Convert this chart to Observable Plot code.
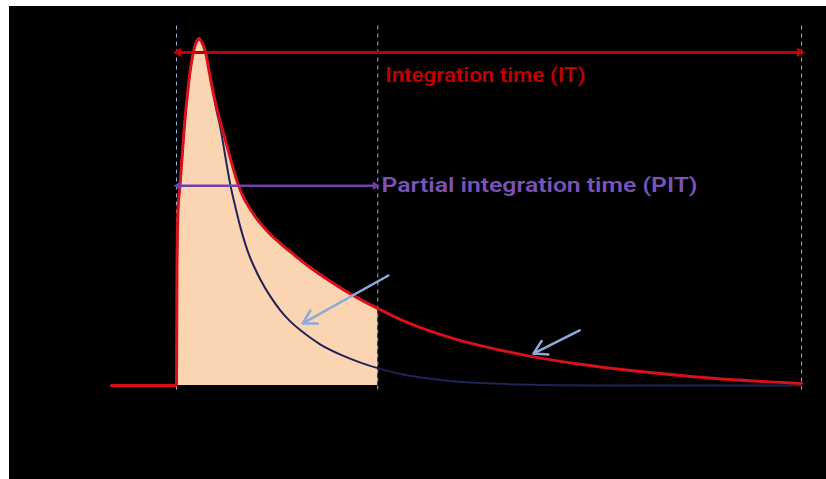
<!DOCTYPE html>
<html>
<head>
<meta charset="utf-8">
<script src="https://cdn.jsdelivr.net/npm/d3@7"></script>
<script src="https://cdn.jsdelivr.net/npm/@observablehq/plot@0.6"></script>
<style>
  html, body { margin: 0; padding: 0; background: #ffffff; }
  #chart { position: absolute; left: 9px; top: 6px; width: 817px; height: 473px; background: #000; }
  #chart svg { display: block; background: #000; }
</style>
</head>
<body>
<div id="chart"></div>
<script>
// Time axis: 0 = pulse start, 100 = end of integration time (IT)
// Signal axis: 0 = baseline, 100 = peak
const redT = [-10.4, 0, 0.08, 0.24, 0.53, 1.44, 2.72, 3.2, 3.6, 4.0, 4.64, 5.28, 5.97, 6.88, 7.84, 8.8, 9.76, 10.72, 11.84, 12.96, 14.72, 16.64, 18.72, 20.96, 24.64, 28.32, 32.2, 35.84, 39.04, 43.84, 48.64, 56.64, 64.64, 72.64, 80.64, 88.64, 96.64, 100];
const redV = [0, 0, 34.6, 50.4, 57.1, 78.4, 96.3, 99.1, 100, 99.1, 96.0, 89.9, 83.6, 76.9, 70.6, 64.3, 58.5, 54.2, 50.7, 47.8, 44.1, 40.9, 37.8, 34.6, 30.0, 25.9, 22.2, 19.0, 16.7, 13.8, 11.5, 8.4, 6.1, 4.3, 2.9, 1.7, 0.9, 0.6];

const navyT = [0, 0.08, 0.24, 0.53, 1.44, 2.72, 3.2, 3.6, 4.0, 4.64, 5.44, 6.24, 7.04, 7.84, 8.64, 9.44, 10.24, 11.04, 11.84, 13.44, 15.04, 16.64, 18.24, 19.84, 23.04, 26.24, 29.44, 32.2, 35.84, 39.04, 43.84, 48.64, 56.64, 67.84, 100];
const navyV = [0, 34.6, 50.4, 57.1, 78.4, 96.3, 99.1, 100, 99.1, 96.0, 89.6, 80.7, 74.1, 65.7, 57.6, 51.3, 45.5, 40.6, 36.6, 30.5, 25.6, 21.6, 18.4, 15.9, 11.8, 8.9, 6.6, 5.0, 3.3, 2.3, 1.3, 0.7, 0.23, 0.03, 0];

const peakT = 3.6;            // time of the peak
const pitEnd = 32.2;          // partial integration time end
const itEnd = 100;            // integration time end
const markerTimes = [0, pitEnd, itEnd];

const itLabel = "Integration time (IT)";
const pitLabel = "Partial integration time (PIT)";

// arrows: [t1, v1, t2, v2]
const itArrow = [0.3, 96, 99.7, 96];
const pitArrow = [0.3, 57.6, 31.8, 57.6];
const pointerArrows = [
  {t1: 33.9, v1: 31.7, t2: 20.2, v2: 17.9},
  {t1: 64.5, v1: 15.9, t2: 57.1, v2: 9.2}
];
const itLabelPos = {t: 33.4, v: 89.3};
const pitLabelPos = {t: 32.8, v: 57.6};

const red = redT.map((t, i) => ({t, v: redV[i]}));
const navy = navyT.map((t, i) => ({t, v: navyV[i]}));
const redRise = red.filter(d => d.t <= peakT);
const redDecay = red.filter(d => d.t >= peakT);
const navyRise = navy.filter(d => d.t <= peakT);
const navyDecay = navy.filter(d => d.t >= peakT);
const fillPts = red.filter(d => d.t >= 0 && d.t <= pitEnd);

const fillColor = "#FBD4B2";
const redColor = "#D8101A";
const navyColor = "#1E2456";

const chart = Plot.plot({
  width: 817,
  height: 473,
  x: {domain: [0, 100], range: [167, 792], axis: null},
  y: {domain: [0, 100], range: [379, 32], axis: null},
  style: {background: "#000"},
  marks: [
    Plot.areaY(fillPts, {x: "t", y: "v", fill: fillColor, curve: "monotone-x"}),
    Plot.ruleX(markerTimes, {y1: -1.3, y2: 104.6, stroke: "#8FB4DE", strokeWidth: 1, strokeDasharray: "4,4"}),
    Plot.line(navyRise, {x: "t", y: "v", stroke: navyColor, strokeWidth: 2, curve: "monotone-x"}),
    Plot.line(navyDecay, {x: "t", y: "v", stroke: navyColor, strokeWidth: 2, curve: "catmull-rom"}),
    Plot.line(redRise, {x: "t", y: "v", stroke: redColor, strokeWidth: 3, curve: "monotone-x"}),
    Plot.line(redDecay, {x: "t", y: "v", stroke: redColor, strokeWidth: 3, curve: "catmull-rom"}),
    // Integration time double arrow
    Plot.link([itArrow], {x1: d => d[0], y1: d => d[1], x2: d => d[2], y2: d => d[3], stroke: "#C00000", strokeWidth: 3}),
    Plot.dot([{t: itArrow[0], v: itArrow[1], r: -90}, {t: itArrow[2], v: itArrow[3], r: 90}], {x: "t", y: "v", rotate: "r", symbol: "triangle2", r: 4.5, fill: "#C00000"}),
    // Partial integration time double arrow
    Plot.link([pitArrow], {x1: d => d[0], y1: d => d[1], x2: d => d[2], y2: d => d[3], stroke: "#7040A8", strokeWidth: 2.5}),
    Plot.dot([{t: pitArrow[0], v: pitArrow[1], r: -90}, {t: pitArrow[2], v: pitArrow[3], r: 90}], {x: "t", y: "v", rotate: "r", symbol: "triangle2", r: 4, fill: "#7040A8"}),
    // pointer arrows
    Plot.arrow(pointerArrows, {x1: "t1", y1: "v1", x2: "t2", y2: "v2", bend: 0, stroke: "#8EA9DB", strokeWidth: 2.5, headLength: 9}),
    // labels
    Plot.text([itLabel], {x: itLabelPos.t, y: itLabelPos.v, text: d => d, textAnchor: "start", fill: "#C00000", fontSize: 21, fontWeight: 600, className: "lbl-it"}),
    Plot.text([pitLabel], {x: pitLabelPos.t, y: pitLabelPos.v, text: d => d, textAnchor: "start", fill: "#7B52B8", fontSize: 21, fontWeight: 600, className: "lbl-pit"})
  ]
});
chart.style.fontFamily = "'Liberation Sans Narrow', 'Roboto', sans-serif";
document.getElementById("chart").appendChild(chart);
// condense labels to the reference widths
d3.select(chart).selectAll(".lbl-it text").attr("textLength", 200).attr("lengthAdjust", "spacingAndGlyphs");
d3.select(chart).selectAll(".lbl-pit text").attr("textLength", 316).attr("lengthAdjust", "spacingAndGlyphs");
</script>
</body>
</html>
